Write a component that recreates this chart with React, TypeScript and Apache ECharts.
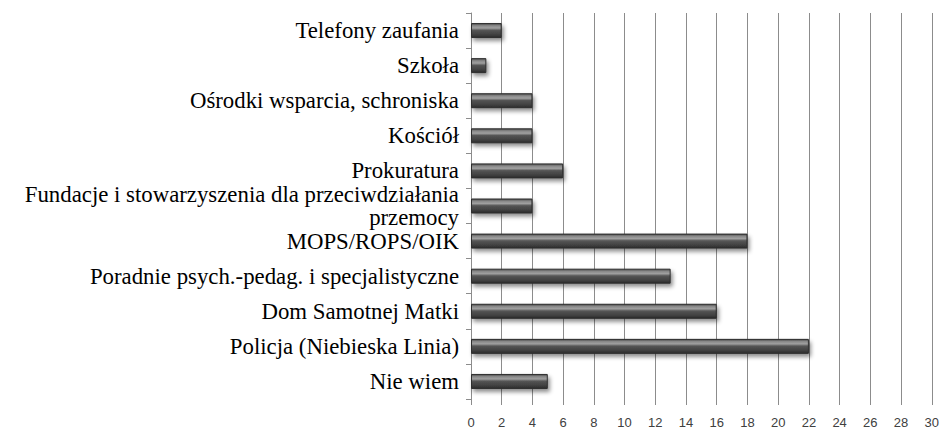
import React, { useEffect, useRef } from "react";
import * as echarts from "echarts";

const categories = [
  "Telefony zaufania",
  "Szkoła",
  "Ośrodki wsparcia, schroniska",
  "Kościół",
  "Prokuratura",
  "Fundacje i stowarzyszenia dla przeciwdziałania\nprzemocy",
  "MOPS/ROPS/OIK",
  "Poradnie psych.-pedag. i specjalistyczne",
  "Dom Samotnej Matki",
  "Policja (Niebieska Linia)",
  "Nie wiem",
];
const values = [2, 1, 4, 4, 6, 4, 18, 13, 16, 22, 5];
const xMin = 0;
const xMax = 30;
const xStep = 2;

export default function App() {
  const ref = useRef<HTMLDivElement>(null);
  useEffect(() => {
    if (!ref.current) return;
    const chart = echarts.init(ref.current, undefined, { renderer: "svg" });
    chart.setOption({
      animation: false,
      backgroundColor: "#ffffff",
      grid: { left: 471, right: 10, top: 13, bottom: 29, containLabel: false },
      xAxis: {
        type: "value",
        min: xMin,
        max: xMax,
        interval: xStep,
        axisLine: { show: false },
        axisTick: { show: true, length: 6, lineStyle: { color: "#8c8c8c", width: 1 } },
        splitLine: { show: true, lineStyle: { color: "#8c8c8c", width: 1 } },
        axisLabel: {
          color: "#404040",
          fontFamily: "Liberation Sans",
          fontSize: 13,
          margin: 17,
        },
      },
      yAxis: {
        type: "category",
        data: categories,
        inverse: true,
        axisLine: { show: true, lineStyle: { color: "#8c8c8c", width: 1 } },
        axisTick: { show: true, length: 5, lineStyle: { color: "#8c8c8c" } },
        axisLabel: {
          color: "#000000",
          fontFamily: "Liberation Serif",
          fontSize: 22.8,
          lineHeight: 23,
          margin: 12,
          align: "right",
        },
      },
      series: [
        {
          type: "bar",
          data: values,
          barWidth: 15,
          itemStyle: {
            color: new echarts.graphic.LinearGradient(0, 0, 0, 1, [
              { offset: 0, color: "#4a4a4a" },
              { offset: 0.15, color: "#888888" },
              { offset: 0.32, color: "#a0a0a0" },
              { offset: 0.48, color: "#555555" },
              { offset: 0.8, color: "#404040" },
              { offset: 1, color: "#2a2a2a" },
            ]),
            borderColor: "#2e2e2e",
            borderWidth: 1,
            shadowColor: "rgba(0,0,0,0.45)",
            shadowBlur: 4,
            shadowOffsetX: 2,
            shadowOffsetY: 3,
          },
        },
      ],
    });
    return () => chart.dispose();
  }, []);
  return <div ref={ref} style={{ width: 942, height: 429, position: "absolute", left: 0, top: 0 }} />;
}
